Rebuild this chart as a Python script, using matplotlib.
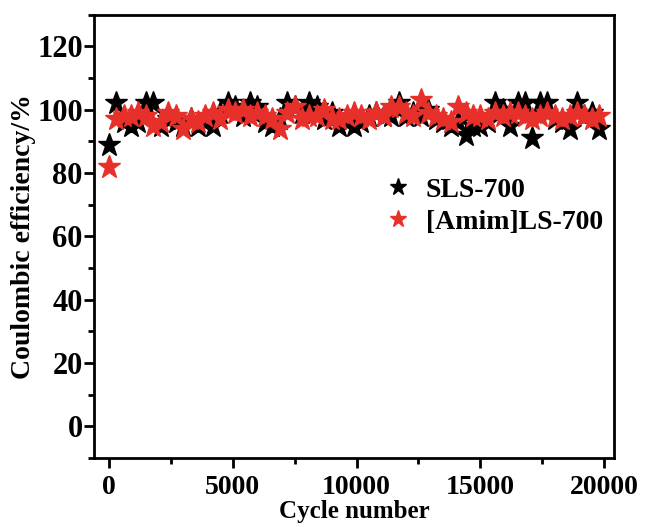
import matplotlib.pyplot as plt
from matplotlib.ticker import MultipleLocator

plt.rcParams['font.family'] = ['Liberation Serif', 'DejaVu Serif']
plt.rcParams['font.weight'] = 'bold'

cycles = [0, 300, 600, 900, 1200, 1500, 1800, 2100, 2400, 2700,
          3000, 3300, 3600, 3900, 4200, 4500, 4800, 5100, 5400, 5700,
          6000, 6300, 6600, 6900, 7200, 7500, 7800, 8100, 8400, 8700,
          9000, 9300, 9600, 9900, 10200, 10500, 10800, 11100, 11400, 11700,
          12000, 12300, 12600, 12900, 13200, 13500, 13800, 14100, 14400, 14700,
          15000, 15300, 15600, 15900, 16200, 16500, 16800, 17100, 17400, 17700,
          18000, 18300, 18600, 18900, 19200, 19500, 19800]

sls_700 = [89, 102, 96, 95, 96, 102, 102, 95, 97, 96,
           95, 97, 95, 96, 95, 99, 102, 101, 98, 102,
           101, 96, 95, 97, 102, 101, 99, 102, 101, 97,
           99, 95, 96, 95, 96, 98, 99, 98, 98, 102,
           98, 99, 98, 100, 97, 96, 95, 96, 92, 95,
           95, 96, 102, 100, 95, 102, 102, 91, 102, 102,
           97, 96, 94, 102, 98, 99, 94]

amim_ls_700 = [82, 97, 98, 98, 99, 98, 95, 96, 99, 98,
               94, 97, 96, 98, 99, 97, 100, 99, 100, 98,
               99, 98, 97, 94, 99, 101, 97, 98, 98, 100,
               97, 97, 98, 99, 98, 97, 99, 98, 101, 101,
               99, 98, 103, 99, 98, 97, 96, 101, 99, 98,
               98, 97, 99, 98, 99, 99, 98, 97, 98, 99,
               98, 97, 98, 99, 98, 97, 98]

fig = plt.figure(figsize=(6.52, 5.27), dpi=100)
ax = fig.add_axes([0.144, 0.131, 0.798, 0.841])

ax.plot(cycles, sls_700, linestyle='none', marker='*', color='black',
        markersize=17, label='SLS-700')
ax.plot(cycles, amim_ls_700, linestyle='none', marker='*', color='#e8302a',
        markersize=17, label='[Amim]LS-700')

ax.set_xlim(-600, 20400)
ax.set_ylim(-10, 130)
ax.xaxis.set_major_locator(MultipleLocator(5000))
ax.xaxis.set_minor_locator(MultipleLocator(2500))
ax.yaxis.set_major_locator(MultipleLocator(20))
ax.yaxis.set_minor_locator(MultipleLocator(10))
ax.set_yticks(range(0, 121, 20))

for s in ax.spines.values():
    s.set_linewidth(2)
ax.tick_params(which='major', direction='out', length=7, width=2, labelsize=22, pad=1)
ax.tick_params(axis='x', which='major', labelsize=20, pad=5)
ax.tick_params(which='minor', direction='out', length=4, width=2)
ax.tick_params(top=False, right=False)

ax.set_xlabel('Cycle number', fontsize=18, fontweight='bold', labelpad=0)
ax.set_ylabel('Coulombic efficiency/%', fontsize=20, fontweight='bold', labelpad=1)

ax.legend(loc='upper left', bbox_to_anchor=(0.51, 0.69), frameon=False,
          fontsize=20, markerscale=0.75, handletextpad=0.5, labelspacing=0.25,
          handlelength=1.0)

plt.savefig('out.png', dpi=100)
